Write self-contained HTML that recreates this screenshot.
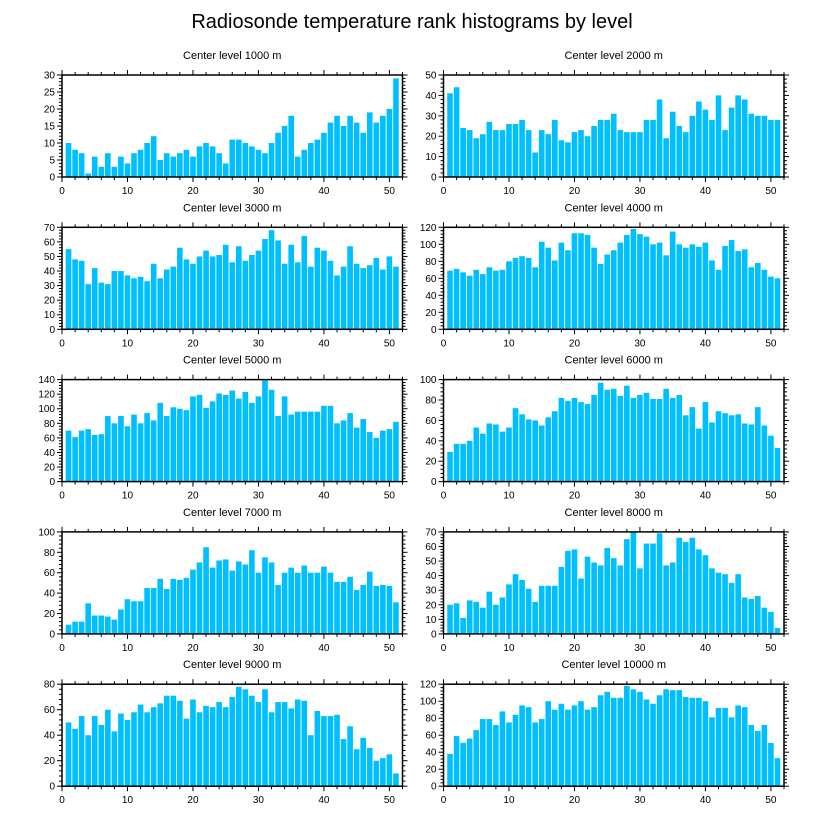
<!DOCTYPE html>
<html><head><meta charset="utf-8"><style>
html,body{margin:0;padding:0;background:#fff;}
svg{display:block;font-family:"Liberation Sans",sans-serif;}
</style></head><body>
<svg id="chart" width="824" height="824" viewBox="0 0 824 824" xmlns="http://www.w3.org/2000/svg">
<text x="412" y="28" text-anchor="middle" font-size="20">Radiosonde temperature rank histograms by level</text>
</svg>
<script>
const levels = [1000,2000,3000,4000,5000,6000,7000,8000,9000,10000];
const yMaxes = [30,50,70,120,140,100,100,70,80,120];
const yTickSteps = [5,10,10,20,20,20,20,10,20,20];
const xTicks = [0,10,20,30,40,50];
const s1000 = [10,8,7,1,6,3,7,3,6,4,7,8,10,12,5,7,6,7,8,6,9,10,9,7,4,11,11,10,9,8,7,10,13,15,18,6,8,10,11,13,16,18,15,18,16,13,19,16,18,20,29];
const s2000 = [41,44,24,23,19,21,27,23,23,26,26,28,23,12,23,21,28,18,17,22,23,20,25,28,28,31,23,22,22,22,28,28,38,19,32,25,22,30,37,33,28,40,23,34,40,38,31,30,30,28,28];
const s3000 = [55,48,47,31,42,32,31,40,40,37,35,36,33,45,35,41,43,56,48,45,50,54,50,51,58,46,57,47,51,54,62,68,61,45,58,46,64,43,56,54,47,37,43,57,45,42,44,49,41,50,43];
const s4000 = [69,71,67,63,70,65,73,69,70,80,84,86,84,73,103,96,81,102,93,113,113,111,96,77,88,93,102,111,118,112,109,100,102,87,115,100,96,100,97,102,81,70,98,105,92,94,73,78,70,62,60];
const s5000 = [70,61,70,72,64,65,90,80,90,76,92,80,94,84,108,90,102,100,98,117,119,101,110,121,119,125,114,123,108,117,139,126,90,117,92,96,96,96,96,104,104,80,84,94,74,86,68,60,70,72,82];
const s6000 = [29,37,37,40,53,47,57,56,49,53,72,66,61,60,55,63,69,82,79,82,78,76,85,97,90,91,84,94,82,85,87,81,81,91,82,85,65,73,52,78,58,69,67,65,66,57,56,73,55,45,33];
const s7000 = [9,12,12,30,18,18,17,14,24,34,32,32,45,45,54,44,54,53,55,63,70,85,65,72,73,62,71,68,82,60,75,70,48,60,65,60,67,60,60,66,60,51,51,56,43,48,61,47,48,47,31];
const s8000 = [20,21,11,23,22,18,29,20,25,34,41,37,31,22,33,33,33,46,57,58,38,53,49,47,59,52,47,65,70,45,62,62,69,47,49,66,63,66,58,54,45,42,41,35,41,25,24,26,18,15,4];
const s9000 = [50,45,55,40,55,48,60,43,57,52,58,64,58,62,65,71,71,67,53,68,58,63,62,66,62,70,78,76,71,66,76,58,66,66,61,68,67,40,59,55,55,56,37,47,29,38,30,20,22,25,10];
const s10000 = [38,59,51,56,66,79,79,72,88,75,84,95,93,75,79,100,90,97,90,95,100,90,93,107,111,104,104,118,114,111,102,97,107,114,113,113,105,104,104,100,81,92,92,81,95,93,72,65,72,51,33];
const series = [s1000,s2000,s3000,s4000,s5000,s6000,s7000,s8000,s9000,s10000];

const NS = "http://www.w3.org/2000/svg";
const svg = document.getElementById('chart');
function mk(tag, attrs, parent){const e=document.createElementNS(NS,tag);for(const k in attrs)e.setAttribute(k,attrs[k]);parent.appendChild(e);return e;}

const colX = [62, 443.5];
const pw = 340.5, ph = 102;
const rowY = [75, 227.3, 379.6, 531.9, 684.2];
const XMAX = 52;

series.forEach((vals, i) => {
  const left = colX[i % 2], top = rowY[Math.floor(i / 2)];
  const bottom = top + ph, right = left + pw;
  const yMax = yMaxes[i];
  const xs = v => left + v / XMAX * pw;
  const ys = v => bottom - v / yMax * ph;
  const g = mk('g', {}, svg);
  
  
  const t = mk('text', {x: left + pw / 2, y: top - 16, 'text-anchor': 'middle', 'font-size': 11}, g);
  t.textContent = 'Center level ' + levels[i] + ' m';
  
  
  vals.forEach((v, k) => {
    const c = k + 1, bw = 0.86;
    const r = mk('rect', {x: xs(c - bw / 2), y: ys(v), width: xs(bw) - left, height: bottom - ys(v), fill: '#00BFFF'}, g);
    
    
  });
  // x ticks
  for (let v = 0; v <= XMAX; v += 2) {
    const major = v % 10 === 0, L = major ? 5 : 3, x = xs(v);
    mk('line', {x1: x, y1: bottom, x2: x, y2: bottom + L, stroke: '#000', 'stroke-width': 1}, g);
    mk('line', {x1: x, y1: top, x2: x, y2: top - L, stroke: '#000', 'stroke-width': 1}, g);
  }
  xTicks.forEach(v => {
    const tl = mk('text', {x: xs(v), y: bottom + 17, 'text-anchor': 'middle', 'font-size': 10}, g);
    tl.textContent = v;
    
    
  });
  // y ticks
  const step = yTickSteps[i], minor = step / 5;
  for (let v = 0; v <= yMax + 1e-9; v += minor) {
    const major = Math.abs(v / step - Math.round(v / step)) < 1e-6, L = major ? 5 : 3, y = ys(v);
    mk('line', {x1: left, y1: y, x2: left - L, y2: y, stroke: '#000', 'stroke-width': 1}, g);
    mk('line', {x1: right, y1: y, x2: right + L, y2: y, stroke: '#000', 'stroke-width': 1}, g);
  }
  for (let v = 0; v <= yMax + 1e-9; v += step) {
    const tl = mk('text', {x: left - 7, y: ys(v) + 3.5, 'text-anchor': 'end', 'font-size': 10}, g);
    tl.textContent = v;
    
    
  }
  const fr = mk('rect', {x: left, y: top, width: pw, height: ph, fill: 'none', stroke: '#000', 'stroke-width': 1.5}, g);
  
  
});
</script>
</body></html>
